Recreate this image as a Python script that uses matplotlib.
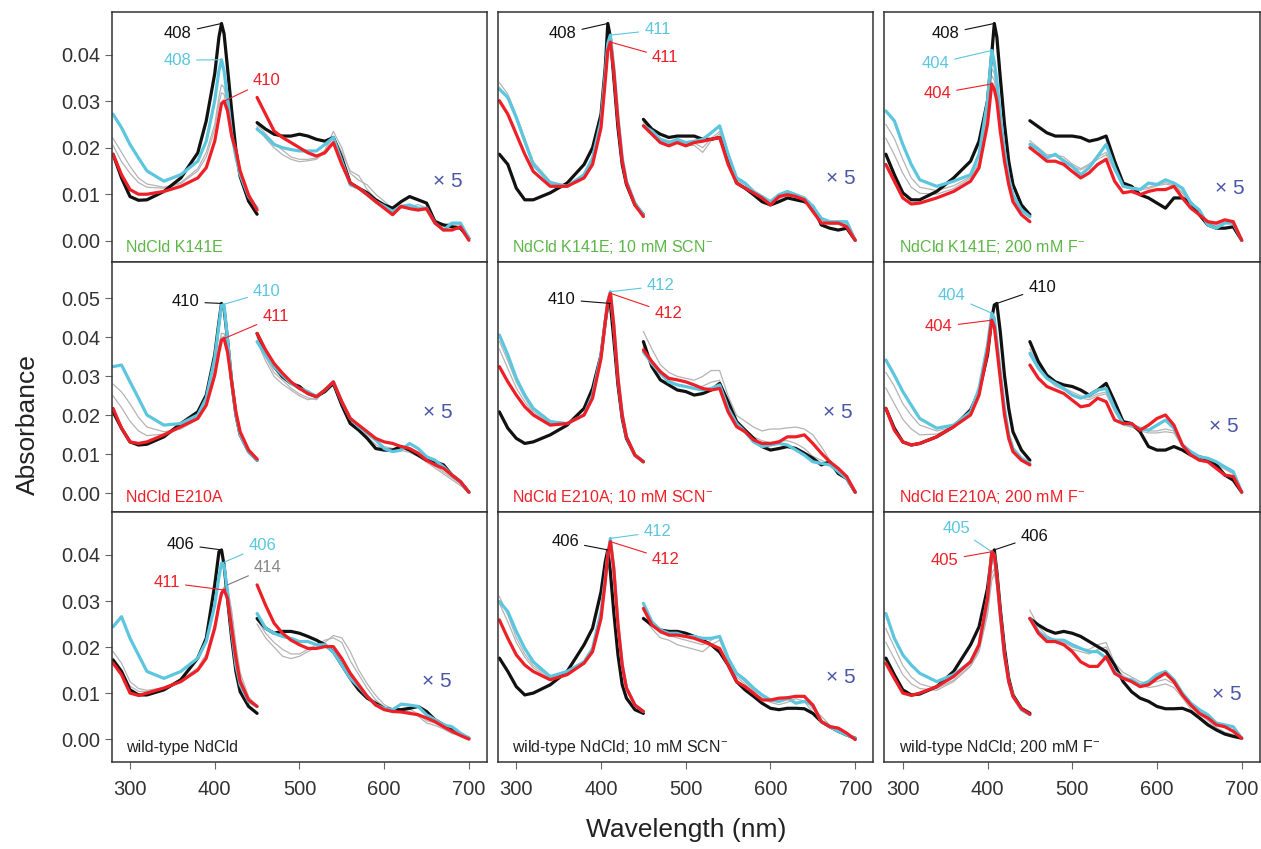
import matplotlib.pyplot as plt
from matplotlib.ticker import FormatStrFormatter

plt.rcParams['font.family'] = ['Liberation Sans', 'DejaVu Sans']
plt.rcParams['mathtext.fontset'] = 'custom'
plt.rcParams['mathtext.rm'] = 'Liberation Sans'

# wavelength grids (nm): Soret region and visible region (shown x5)
wl_soret = [280, 290, 300, 310, 320, 340, 360, 380, 390, 400, 405, 408, 411, 415, 420, 425, 430, 440, 450]
wl_vis = [450, 460, 470, 480, 490, 500, 510, 520, 530, 540, 550, 560, 570,
          580, 590, 600, 610, 620, 630, 640, 650, 660, 670, 680, 690, 700]

# absorbance values in units of 0.001
# --- NdCld K141E
p1_black_s = [18.6, 13.5, 9.5, 8.7, 8.8, 10.6, 13.5, 18.9, 25.8, 35.9, 43.8, 46.7, 44.5, 37.3, 28.0, 19.5, 13.8, 8.5, 5.7]
p1_cyan_s = [27.2, 24.3, 20.7, 17.8, 15.0, 12.8, 14.2, 17.1, 21.4, 30.1, 36.6, 38.9, 36.5, 30.8, 22.9, 18.0, 14.2, 9.5, 7.0]
p1_red_s = [18.6, 14.2, 11.0, 10.0, 10.0, 10.6, 11.7, 13.5, 15.7, 21.4, 26.5, 29.5, 30.0, 28.0, 22.5, 19.5, 15.0, 9.8, 6.6]
p1_gray1_s = [22.0, 19.0, 16.0, 13.5, 12.2, 11.5, 12.5, 15.5, 19.0, 25.0, 31.0, 33.5, 33.0, 29.0, 23.0, 18.0, 14.5, 9.3, 6.5]
p1_gray2_s = [20.5, 17.0, 14.5, 12.5, 11.5, 11.3, 12.3, 15.0, 18.0, 24.0, 29.5, 31.8, 31.5, 28.0, 22.5, 17.5, 14.3, 9.2, 6.5]
p1_black_v = [25.4, 24.0, 22.9, 22.5, 22.5, 22.9, 22.5, 21.8, 21.4, 22.2, 17.8, 12.4, 11.3, 10.3, 8.8, 7.7, 7.0, 8.4, 9.5, 8.8, 8.1, 4.1, 3.4, 3.0, 2.7, 0.5]
p1_cyan_v = [24.0, 22.5, 20.7, 20.0, 19.6, 19.3, 19.3, 19.3, 20.7, 22.2, 17.1, 12.0, 11.3, 9.9, 8.4, 7.4, 6.3, 7.4, 7.7, 7.0, 7.0, 3.8, 2.3, 3.8, 3.8, 0.5]
p1_red_v = [30.8, 27.2, 23.6, 22.2, 21.1, 20.0, 18.9, 18.2, 18.9, 21.1, 16.4, 12.4, 11.3, 9.9, 8.4, 7.0, 5.6, 7.4, 6.9, 6.6, 6.9, 3.8, 2.3, 2.3, 3.0, 0.1]
p1_gray1_v = [25.0, 23.0, 21.0, 19.5, 18.0, 17.5, 17.5, 17.8, 19.5, 23.5, 20.0, 14.5, 13.0, 12.0, 10.0, 8.5, 6.8, 7.0, 7.2, 7.8, 7.0, 4.5, 3.5, 3.8, 3.5, 1.0]
p1_gray2_v = [24.5, 22.0, 20.0, 18.5, 17.5, 17.0, 17.2, 17.5, 19.0, 22.5, 19.0, 15.0, 14.0, 11.0, 9.0, 7.5, 6.5, 7.2, 7.5, 7.2, 6.5, 3.5, 3.2, 3.5, 3.0, 0.8]

# --- NdCld K141E; 10 mM SCN-
p2_black_s = [18.6, 16.4, 11.3, 8.8, 8.8, 10.3, 12.4, 16.4, 20.0, 27.2, 37.3, 46.7, 43.8, 35.2, 24.3, 16.4, 12.1, 7.7, 5.6]
p2_cyan_s = [32.6, 30.8, 26.5, 21.4, 16.4, 12.4, 11.7, 14.2, 17.8, 25.8, 35.9, 42.4, 44.2, 37.3, 26.5, 17.8, 12.8, 8.1, 5.6]
p2_red_s = [30.1, 27.2, 22.9, 18.6, 14.9, 11.7, 11.7, 13.5, 16.4, 24.3, 34.4, 40.9, 42.7, 36.6, 25.8, 17.1, 12.4, 7.7, 5.2]
p2_gray1_s = [34.0, 31.5, 27.0, 22.0, 17.0, 12.8, 11.8, 14.0, 17.5, 25.5, 35.5, 42.0, 43.8, 37.0, 26.2, 17.6, 12.7, 8.0, 5.5]
p2_gray2_s = [33.0, 30.5, 26.0, 21.0, 16.0, 12.5, 11.6, 13.8, 17.2, 25.0, 35.0, 41.5, 43.5, 36.8, 26.0, 17.5, 12.6, 7.9, 5.5]
p2_black_v = [26.1, 24.0, 22.9, 22.2, 22.5, 22.5, 22.5, 21.8, 21.8, 22.2, 17.8, 12.4, 11.3, 9.9, 8.4, 7.7, 8.4, 9.2, 8.8, 8.4, 7.4, 3.4, 2.7, 2.3, 2.7, 0.1]
p2_cyan_v = [24.7, 23.6, 21.8, 21.1, 21.8, 21.1, 21.4, 21.8, 23.2, 24.7, 18.6, 13.5, 12.4, 10.6, 9.5, 8.4, 9.9, 10.6, 9.9, 9.2, 7.4, 4.8, 4.1, 4.1, 4.1, 0.1]
p2_red_v = [24.7, 22.9, 21.1, 20.4, 21.1, 20.4, 21.1, 21.4, 21.8, 22.2, 16.4, 12.4, 11.3, 10.3, 9.2, 7.7, 9.5, 9.9, 9.5, 8.8, 6.3, 3.8, 3.8, 3.8, 3.0, 0.1]
p2_gray1_v = [25.5, 23.5, 22.0, 21.5, 21.0, 20.5, 20.5, 19.0, 21.5, 23.0, 18.0, 13.0, 12.0, 10.5, 9.2, 8.0, 9.0, 10.0, 9.5, 8.8, 7.0, 4.5, 3.5, 3.5, 3.5, 0.5]
p2_gray2_v = [25.0, 23.0, 21.5, 21.0, 21.5, 21.0, 21.0, 20.0, 22.0, 23.5, 18.5, 13.5, 12.2, 10.8, 9.5, 8.2, 9.2, 10.2, 9.8, 9.0, 7.2, 4.6, 3.8, 3.8, 3.8, 0.5]

# --- NdCld K141E; 200 mM F-
p3_black_s = [18.6, 14.2, 10.3, 8.8, 8.8, 10.6, 13.5, 17.1, 21.4, 30.1, 40.2, 46.7, 43.8, 35.2, 25.1, 17.1, 12.1, 7.7, 5.6]
p3_cyan_s = [27.9, 25.8, 20.7, 16.4, 13.1, 11.7, 12.8, 14.2, 18.6, 30.1, 40.9, 38.4, 34.4, 27.2, 19.3, 13.5, 9.9, 6.6, 5.2]
p3_red_s = [16.4, 12.8, 9.2, 7.9, 8.1, 9.2, 10.6, 12.8, 15.7, 25.1, 33.7, 32.5, 30.1, 23.6, 17.1, 12.1, 8.4, 5.6, 4.1]
p3_gray1_s = [25.0, 22.0, 17.5, 13.5, 11.5, 10.8, 11.8, 13.8, 17.0, 27.5, 37.0, 36.0, 32.0, 25.5, 18.5, 13.2, 9.5, 6.4, 5.0]
p3_gray2_s = [22.0, 18.5, 14.5, 11.5, 10.2, 10.0, 11.2, 13.5, 16.5, 26.5, 35.5, 34.5, 31.0, 25.0, 18.0, 13.0, 9.3, 6.3, 5.0]
p3_black_v = [25.8, 24.5, 23.2, 22.5, 22.5, 22.5, 22.2, 21.4, 21.8, 22.5, 17.1, 12.4, 11.7, 9.9, 9.2, 8.1, 7.0, 9.2, 9.2, 8.1, 5.6, 3.4, 2.7, 2.7, 3.0, 0.1]
p3_cyan_v = [20.7, 19.6, 17.8, 18.6, 17.1, 16.0, 14.2, 15.7, 18.2, 20.7, 15.7, 11.7, 11.3, 11.0, 12.4, 12.1, 13.1, 12.4, 11.3, 8.1, 6.6, 3.4, 2.7, 3.8, 3.8, 0.1]
p3_red_v = [20.0, 18.6, 17.1, 17.1, 16.4, 14.9, 13.5, 14.6, 16.4, 17.5, 12.8, 10.3, 10.6, 9.9, 10.6, 11.0, 11.0, 11.7, 9.2, 7.0, 5.6, 4.1, 3.8, 4.5, 4.1, 0.1]
p3_gray1_v = [21.5, 20.0, 18.5, 18.5, 18.0, 16.5, 15.5, 16.5, 18.0, 19.0, 15.5, 12.0, 11.5, 11.2, 11.5, 12.0, 12.5, 12.0, 10.5, 8.0, 6.0, 4.0, 3.5, 4.0, 3.8, 0.5]
p3_gray2_v = [21.0, 19.8, 18.2, 18.2, 17.5, 16.0, 15.2, 16.2, 17.5, 18.5, 15.0, 11.8, 11.3, 11.0, 11.2, 11.8, 12.2, 11.8, 10.2, 7.8, 5.8, 3.8, 3.3, 3.8, 3.6, 0.5]

# --- NdCld E210A
p4_black_s = [20.9, 16.7, 13.2, 12.4, 12.6, 14.5, 17.9, 20.9, 25.2, 35.5, 44.0, 48.7, 47.4, 39.7, 28.6, 20.1, 15.0, 10.7, 8.5]
p4_cyan_s = [32.5, 32.9, 28.6, 24.4, 20.1, 17.5, 17.9, 20.1, 24.4, 34.6, 43.2, 48.3, 48.3, 39.7, 28.6, 20.1, 15.0, 10.7, 8.5]
p4_red_s = [21.8, 16.7, 13.2, 12.8, 13.2, 15.0, 17.1, 19.2, 22.6, 30.3, 36.3, 39.3, 39.7, 36.3, 28.6, 20.9, 15.8, 11.1, 8.8]
p4_gray1_s = [28.0, 26.0, 23.0, 19.5, 17.0, 15.8, 16.5, 19.0, 23.0, 31.5, 38.0, 41.0, 41.0, 37.0, 28.6, 20.5, 15.4, 10.9, 8.6]
p4_gray2_s = [25.0, 22.0, 18.5, 16.0, 14.8, 15.2, 16.8, 19.5, 23.2, 31.0, 37.2, 40.0, 40.2, 36.6, 28.6, 20.6, 15.5, 11.0, 8.7]
p4_black_v = [41.0, 36.3, 32.5, 29.9, 28.2, 27.4, 25.6, 24.8, 26.1, 28.2, 22.6, 17.9, 16.2, 14.1, 11.5, 11.1, 11.1, 12.0, 11.1, 9.8, 8.5, 8.1, 7.3, 4.7, 3.0, 0.3]
p4_cyan_v = [38.9, 35.5, 32.5, 30.3, 28.2, 26.9, 26.1, 24.8, 26.5, 28.6, 23.5, 19.2, 17.1, 15.4, 13.7, 11.5, 10.7, 11.1, 12.8, 11.5, 9.4, 8.5, 6.8, 4.7, 3.0, 0.3]
p4_red_v = [41.0, 36.8, 33.3, 30.8, 28.6, 26.9, 25.6, 24.8, 26.5, 28.6, 23.5, 19.2, 17.5, 15.8, 14.1, 13.2, 12.8, 12.0, 11.5, 10.3, 8.5, 7.3, 6.4, 4.7, 3.0, 0.3]
p4_gray1_v = [40.0, 35.0, 31.0, 29.0, 27.0, 25.5, 24.5, 24.0, 26.5, 28.0, 24.0, 19.5, 17.5, 15.5, 13.5, 12.0, 11.5, 11.5, 11.0, 10.0, 8.5, 7.0, 5.5, 4.0, 2.5, 0.3]
p4_gray2_v = [39.0, 34.0, 30.0, 28.0, 26.5, 25.0, 24.0, 24.5, 27.0, 27.5, 23.0, 18.5, 16.5, 14.5, 12.5, 11.2, 10.8, 11.0, 10.5, 9.5, 8.0, 6.5, 5.0, 3.5, 2.0, 0.2]

# --- NdCld E210A; 10 mM SCN-
p5_black_s = [20.9, 16.7, 14.1, 12.8, 13.2, 15.0, 17.5, 21.8, 26.9, 35.5, 44.0, 48.3, 48.7, 39.7, 27.8, 19.2, 14.1, 9.8, 8.1]
p5_cyan_s = [40.6, 35.5, 29.5, 25.2, 21.8, 18.4, 17.9, 20.1, 25.2, 35.5, 44.0, 49.1, 51.7, 43.2, 29.5, 20.1, 14.5, 9.8, 8.1]
p5_red_s = [32.5, 28.6, 25.2, 22.2, 20.1, 17.5, 17.9, 20.1, 24.4, 34.6, 44.0, 49.1, 51.3, 43.2, 29.5, 20.1, 14.5, 9.8, 8.1]
p5_gray1_s = [39.0, 34.0, 28.5, 24.5, 21.0, 18.0, 17.8, 20.0, 25.0, 35.2, 43.8, 49.5, 51.5, 43.0, 29.5, 20.0, 14.4, 9.8, 8.1]
p5_gray2_s = [37.0, 32.0, 27.0, 23.5, 20.5, 17.8, 17.8, 20.0, 24.8, 35.0, 43.6, 49.3, 51.8, 43.2, 29.6, 20.1, 14.5, 9.8, 8.1]
p5_black_v = [38.9, 32.5, 29.1, 27.8, 26.5, 26.1, 25.2, 25.6, 26.5, 28.2, 23.5, 18.4, 16.2, 14.1, 12.0, 11.1, 11.5, 12.0, 11.5, 10.3, 9.0, 7.3, 8.1, 5.1, 3.8, 0.3]
p5_cyan_v = [36.3, 33.3, 30.8, 28.6, 27.8, 27.4, 26.9, 26.5, 26.9, 27.8, 21.8, 17.9, 15.8, 13.2, 12.0, 12.4, 12.8, 12.4, 11.1, 9.8, 8.1, 7.7, 7.3, 5.6, 3.8, 0.3]
p5_red_v = [36.8, 33.8, 31.2, 29.5, 29.1, 28.6, 27.8, 26.9, 26.5, 26.9, 20.9, 17.1, 15.8, 13.7, 12.8, 12.8, 13.2, 14.5, 14.5, 15.0, 12.8, 10.3, 8.1, 6.4, 4.3, 0.3]
p5_gray1_v = [41.5, 37.0, 33.0, 31.0, 30.0, 29.5, 29.0, 30.0, 31.5, 31.5, 25.0, 20.0, 18.5, 17.0, 16.0, 16.5, 16.5, 16.8, 17.0, 16.5, 15.0, 12.0, 8.5, 6.0, 4.5, 0.5]
p5_gray2_v = [37.5, 34.0, 31.5, 29.0, 28.0, 27.5, 27.0, 27.5, 28.5, 29.0, 22.5, 18.0, 16.5, 14.5, 13.5, 13.0, 13.5, 13.5, 12.8, 11.5, 9.5, 8.5, 7.5, 5.5, 4.0, 0.3]

# --- NdCld E210A; 200 mM F-
p6_black_s = [21.8, 16.7, 13.2, 12.4, 12.8, 14.5, 17.1, 21.4, 26.1, 35.5, 44.9, 48.3, 48.7, 41.5, 30.3, 21.8, 15.8, 11.1, 8.5]
p6_cyan_s = [34.2, 30.3, 26.1, 22.6, 19.2, 16.7, 17.5, 20.9, 26.9, 38.0, 46.2, 44.9, 38.9, 31.2, 21.8, 15.0, 11.5, 9.0, 7.7]
p6_red_s = [21.8, 16.2, 13.2, 12.4, 12.8, 14.5, 17.1, 20.1, 25.2, 36.3, 44.4, 42.7, 37.2, 29.5, 20.1, 14.1, 10.7, 8.5, 7.3]
p6_gray1_s = [31.0, 27.5, 23.0, 20.0, 17.5, 16.0, 17.0, 20.5, 26.0, 37.0, 45.0, 44.0, 38.2, 30.6, 21.2, 14.6, 11.2, 8.8, 7.5]
p6_gray2_s = [27.0, 23.0, 19.0, 16.5, 15.0, 15.2, 17.0, 20.3, 25.6, 36.6, 44.6, 43.5, 37.8, 30.2, 20.8, 14.4, 11.0, 8.7, 7.4]
p6_black_v = [38.9, 33.8, 30.3, 28.6, 27.8, 27.4, 26.5, 25.2, 26.5, 28.2, 23.5, 18.4, 17.9, 15.8, 12.0, 11.1, 11.1, 12.0, 11.1, 9.8, 9.4, 8.5, 7.3, 4.7, 3.4, 0.3]
p6_cyan_v = [35.9, 32.1, 29.5, 28.2, 26.9, 25.2, 24.4, 25.2, 26.5, 26.9, 21.8, 17.9, 17.5, 16.7, 16.2, 17.5, 18.8, 16.7, 12.4, 10.7, 9.4, 9.0, 8.1, 6.8, 5.6, 0.3]
p6_red_v = [32.9, 29.5, 27.4, 26.5, 25.6, 23.9, 22.2, 22.6, 24.4, 23.5, 18.8, 17.9, 17.9, 16.2, 17.5, 19.2, 20.1, 17.5, 12.4, 9.8, 8.5, 8.1, 6.4, 4.7, 4.3, 0.3]
p6_gray1_v = [37.0, 33.0, 30.0, 28.0, 27.0, 26.0, 25.0, 24.5, 25.5, 26.0, 22.0, 18.0, 17.5, 16.5, 16.0, 16.0, 16.5, 16.0, 12.5, 10.8, 9.5, 9.0, 7.8, 6.5, 5.2, 0.3]
p6_gray2_v = [35.5, 32.0, 29.5, 27.5, 26.5, 25.5, 24.5, 24.0, 25.0, 25.5, 21.0, 17.5, 17.0, 16.0, 15.5, 15.5, 15.8, 15.5, 12.0, 10.5, 9.2, 8.8, 7.5, 6.2, 5.0, 0.3]

# --- wild-type NdCld
p7_black_s = [17.2, 14.7, 10.7, 9.6, 9.6, 10.7, 12.9, 17.6, 21.9, 33.5, 40.7, 41.1, 37.8, 30.6, 21.9, 14.7, 10.3, 7.1, 5.6]
p7_cyan_s = [24.4, 26.6, 21.9, 18.3, 14.7, 13.2, 14.7, 17.6, 21.2, 29.1, 35.3, 38.2, 37.8, 32.0, 23.4, 16.1, 11.8, 8.2, 7.1]
p7_red_s = [16.5, 14.0, 10.0, 9.5, 10.0, 11.1, 12.5, 15.0, 17.6, 24.1, 29.1, 31.7, 32.4, 30.6, 24.1, 17.6, 12.5, 8.5, 7.1]
p7_gray1_s = [19.0, 16.5, 12.5, 11.0, 10.6, 11.2, 12.8, 15.5, 18.5, 25.0, 29.5, 32.0, 33.0, 33.5, 27.0, 19.5, 13.5, 8.8, 7.0]
p7_gray2_s = [17.5, 15.0, 11.5, 10.4, 10.3, 11.0, 12.5, 15.0, 17.8, 24.0, 28.5, 31.0, 32.5, 33.0, 28.0, 20.5, 14.5, 9.2, 7.2]
p7_black_v = [26.2, 24.1, 23.0, 23.4, 23.4, 23.0, 22.3, 21.5, 20.5, 19.0, 16.1, 13.2, 10.7, 8.9, 7.8, 6.7, 6.4, 6.4, 6.7, 7.1, 6.0, 4.2, 3.1, 2.0, 1.1, 0.2]
p7_cyan_v = [27.3, 24.1, 23.0, 22.3, 21.9, 21.2, 21.2, 20.5, 20.5, 18.9, 16.1, 13.2, 11.4, 9.3, 7.4, 6.7, 6.4, 7.6, 7.4, 7.1, 5.3, 4.2, 3.1, 2.7, 1.3, 0.2]
p7_red_v = [33.5, 29.1, 25.2, 23.0, 21.5, 20.5, 19.7, 19.7, 20.1, 20.1, 17.5, 14.3, 11.8, 9.3, 7.4, 6.4, 6.0, 5.9, 5.6, 5.3, 4.6, 3.8, 2.7, 1.7, 0.8, 0.0]
p7_gray1_v = [26.0, 23.0, 21.0, 19.5, 18.5, 18.5, 19.5, 20.5, 21.5, 22.0, 21.0, 17.0, 14.0, 11.0, 8.5, 7.0, 6.0, 6.0, 6.5, 5.5, 4.0, 3.5, 2.5, 1.5, 1.0, 0.2]
p7_gray2_v = [25.0, 22.0, 20.0, 18.0, 17.5, 18.0, 19.0, 20.0, 21.0, 22.5, 22.0, 19.0, 15.0, 12.0, 9.5, 7.5, 6.5, 6.2, 6.0, 5.0, 3.5, 3.0, 2.2, 1.2, 0.8, 0.2]

# --- wild-type NdCld; 10 mM SCN-
p8_black_s = [17.6, 14.7, 11.4, 9.6, 10.0, 11.8, 14.7, 20.5, 24.1, 32.0, 38.5, 41.1, 36.4, 27.7, 18.3, 11.8, 8.9, 6.4, 5.6]
p8_cyan_s = [29.9, 27.7, 23.4, 19.7, 16.8, 13.6, 14.7, 16.8, 19.7, 27.7, 34.9, 40.0, 43.6, 37.1, 24.8, 16.1, 11.1, 7.4, 6.0]
p8_red_s = [25.9, 21.9, 18.3, 16.1, 14.7, 12.9, 14.0, 16.5, 19.0, 26.2, 34.2, 40.0, 42.9, 37.1, 24.8, 16.1, 11.1, 7.4, 6.0]
p8_gray1_s = [31.0, 27.0, 22.0, 18.5, 16.0, 13.5, 14.2, 16.5, 19.5, 27.5, 34.8, 40.0, 43.0, 37.0, 24.8, 16.1, 11.1, 7.4, 6.0]
p8_gray2_s = [29.5, 25.5, 21.0, 17.8, 15.5, 13.2, 14.0, 16.4, 19.3, 27.2, 34.5, 39.8, 42.8, 36.8, 24.7, 16.1, 11.1, 7.4, 6.0]
p8_black_v = [26.2, 24.8, 23.7, 23.4, 23.4, 23.0, 22.3, 21.5, 20.5, 18.9, 16.1, 12.5, 10.7, 9.3, 7.8, 6.7, 6.4, 6.7, 6.7, 6.6, 5.6, 3.8, 2.7, 1.7, 0.9, 0.2]
p8_cyan_v = [29.5, 25.5, 23.7, 23.0, 23.0, 22.3, 22.3, 21.9, 21.9, 22.3, 17.6, 14.3, 12.9, 11.1, 9.6, 8.5, 8.2, 8.9, 7.8, 8.2, 7.4, 3.8, 2.7, 1.7, 0.9, 0.2]
p8_red_v = [28.4, 24.8, 23.4, 22.6, 22.6, 22.3, 21.9, 21.2, 20.5, 19.7, 16.1, 12.5, 11.4, 10.0, 8.5, 8.5, 8.9, 9.0, 9.3, 9.3, 7.4, 3.8, 2.7, 2.4, 1.3, -0.1]
p8_gray1_v = [28.0, 25.0, 23.0, 22.5, 22.0, 21.5, 21.0, 20.5, 21.5, 22.5, 18.0, 14.0, 12.5, 10.5, 9.5, 8.5, 8.0, 8.5, 9.5, 9.0, 6.5, 5.0, 3.0, 2.5, 1.0, 0.2]
p8_gray2_v = [26.5, 24.0, 22.0, 21.5, 20.5, 20.0, 19.5, 19.0, 20.5, 21.5, 17.0, 13.5, 12.0, 10.0, 9.0, 8.0, 7.5, 8.0, 8.8, 8.2, 5.8, 4.0, 2.5, 2.0, 0.8, 0.2]

# --- wild-type NdCld; 200 mM F-
p9_black_s = [17.6, 14.0, 10.7, 9.6, 9.8, 11.4, 14.7, 20.5, 24.4, 32.8, 40.0, 41.1, 36.4, 28.4, 19.7, 13.2, 9.6, 6.7, 5.6]
p9_cyan_s = [27.3, 21.9, 18.3, 16.1, 14.3, 12.5, 14.0, 16.8, 20.5, 30.6, 40.7, 40.0, 34.9, 27.0, 18.3, 12.5, 9.3, 6.4, 5.3]
p9_red_s = [16.5, 13.2, 10.0, 9.5, 10.0, 11.4, 13.6, 16.8, 20.5, 30.6, 40.7, 40.0, 35.3, 27.3, 18.3, 12.5, 9.3, 6.6, 5.4]
p9_gray1_s = [24.0, 20.0, 16.0, 13.5, 12.0, 11.0, 12.8, 16.0, 19.5, 28.0, 36.0, 37.0, 33.5, 27.0, 18.5, 12.8, 9.5, 6.6, 5.4]
p9_gray2_s = [21.0, 17.5, 14.0, 12.0, 11.0, 10.6, 12.5, 15.8, 19.0, 27.0, 34.5, 36.0, 33.0, 26.8, 18.6, 12.9, 9.6, 6.7, 5.5]
p9_black_v = [26.2, 24.8, 23.7, 23.0, 23.4, 23.0, 22.3, 21.2, 20.1, 19.0, 16.1, 12.5, 10.3, 8.9, 8.2, 7.1, 6.6, 6.6, 6.7, 6.0, 4.6, 3.1, 2.0, 1.1, 0.6, 0.2]
p9_cyan_v = [26.2, 23.4, 21.9, 21.5, 21.5, 20.5, 19.7, 19.0, 19.0, 17.6, 14.7, 13.2, 12.9, 11.8, 12.5, 14.0, 14.7, 12.9, 10.0, 7.8, 6.4, 5.3, 3.5, 3.1, 2.7, 0.2]
p9_red_v = [26.2, 23.0, 21.2, 21.2, 20.5, 19.0, 16.8, 15.8, 15.8, 17.9, 14.3, 13.2, 12.5, 11.4, 11.8, 13.2, 14.3, 12.5, 9.6, 7.4, 5.6, 4.6, 3.1, 2.7, 1.7, 0.2]
p9_gray1_v = [28.0, 24.5, 22.5, 21.5, 21.0, 20.0, 19.5, 19.5, 20.5, 21.0, 16.5, 14.5, 13.5, 12.5, 12.0, 12.5, 13.0, 12.0, 9.5, 7.0, 5.5, 4.0, 2.5, 1.5, 1.0, 0.2]
p9_gray2_v = [26.5, 23.5, 22.0, 21.0, 20.5, 19.5, 19.0, 18.5, 19.5, 20.0, 15.8, 13.8, 12.8, 11.8, 11.2, 11.5, 12.0, 11.2, 9.0, 6.5, 5.0, 3.5, 2.2, 1.2, 0.8, 0.2]

panel_labels = ['NdCld K141E', 'NdCld K141E; 10 mM SCN$^{-}$', 'NdCld K141E; 200 mM F$^{-}$',
                'NdCld E210A', 'NdCld E210A; 10 mM SCN$^{-}$', 'NdCld E210A; 200 mM F$^{-}$',
                'wild-type NdCld', 'wild-type NdCld; 10 mM SCN$^{-}$', 'wild-type NdCld; 200 mM F$^{-}$']

BLACK = '#111111'
CYAN = '#5cc6df'
RED = '#ee1f26'
GRAY = '#b4b4b4'
GREEN = '#5cb646'
XFIVE = '#4b56a8'
label_colors = [GREEN, GREEN, GREEN, RED, RED, RED, '#222222', '#222222', '#222222']

panels = [
    dict(black=(p1_black_s, p1_black_v), cyan=(p1_cyan_s, p1_cyan_v), red=(p1_red_s, p1_red_v),
         grays=[(p1_gray1_s, p1_gray1_v), (p1_gray2_s, p1_gray2_v)]),
    dict(black=(p2_black_s, p2_black_v), cyan=(p2_cyan_s, p2_cyan_v), red=(p2_red_s, p2_red_v),
         grays=[(p2_gray1_s, p2_gray1_v), (p2_gray2_s, p2_gray2_v)]),
    dict(black=(p3_black_s, p3_black_v), cyan=(p3_cyan_s, p3_cyan_v), red=(p3_red_s, p3_red_v),
         grays=[(p3_gray1_s, p3_gray1_v), (p3_gray2_s, p3_gray2_v)]),
    dict(black=(p4_black_s, p4_black_v), cyan=(p4_cyan_s, p4_cyan_v), red=(p4_red_s, p4_red_v),
         grays=[(p4_gray1_s, p4_gray1_v), (p4_gray2_s, p4_gray2_v)]),
    dict(black=(p5_black_s, p5_black_v), cyan=(p5_cyan_s, p5_cyan_v), red=(p5_red_s, p5_red_v),
         grays=[(p5_gray1_s, p5_gray1_v), (p5_gray2_s, p5_gray2_v)]),
    dict(black=(p6_black_s, p6_black_v), cyan=(p6_cyan_s, p6_cyan_v), red=(p6_red_s, p6_red_v),
         grays=[(p6_gray1_s, p6_gray1_v), (p6_gray2_s, p6_gray2_v)]),
    dict(black=(p7_black_s, p7_black_v), cyan=(p7_cyan_s, p7_cyan_v), red=(p7_red_s, p7_red_v),
         grays=[(p7_gray1_s, p7_gray1_v), (p7_gray2_s, p7_gray2_v)]),
    dict(black=(p8_black_s, p8_black_v), cyan=(p8_cyan_s, p8_cyan_v), red=(p8_red_s, p8_red_v),
         grays=[(p8_gray1_s, p8_gray1_v), (p8_gray2_s, p8_gray2_v)]),
    dict(black=(p9_black_s, p9_black_v), cyan=(p9_cyan_s, p9_cyan_v), red=(p9_red_s, p9_red_v),
         grays=[(p9_gray1_s, p9_gray1_v), (p9_gray2_s, p9_gray2_v)]),
]

# peak labels: (text, curve, text x (nm), text y (x0.001), alignment)
peak_labels = [
    [('408', 'black', 373, 44.6, 'right'), ('408', 'cyan', 372, 38.8, 'right'), ('410', 'red', 445, 34.4, 'left')],
    [('408', 'black', 371, 44.5, 'right'), ('411', 'cyan', 451, 45.3, 'left'), ('411', 'red', 460, 39.4, 'left')],
    [('408', 'black', 367, 44.5, 'right'), ('404', 'cyan', 355, 38.1, 'right'), ('404', 'red', 357, 31.6, 'right')],
    [('410', 'black', 382, 49.1, 'right'), ('410', 'cyan', 445, 51.7, 'left'), ('411', 'red', 456, 45.3, 'left')],
    [('410', 'black', 370, 49.7, 'right'), ('412', 'cyan', 454, 53.2, 'left'), ('412', 'red', 463, 46.2, 'left')],
    [('404', 'cyan', 374, 50.7, 'right'), ('410', 'black', 448, 52.7, 'left'), ('404', 'red', 359, 42.7, 'right')],
    [('406', 'black', 376, 42.3, 'right'), ('406', 'cyan', 440, 42.0, 'left'), ('414', 'gray', 446, 37.3, 'left'),
     ('411', 'red', 359, 34.0, 'right')],
    [('406', 'black', 374, 42.9, 'right'), ('412', 'cyan', 450, 45.0, 'left'), ('412', 'red', 460, 39.1, 'left')],
    [('405', 'cyan', 380, 45.8, 'right'), ('406', 'black', 439, 44.0, 'left'), ('405', 'red', 366, 38.9, 'right')],
]

x5_pos = [(0.896, 0.323), (0.914, 0.335), (0.92, 0.294),
          (0.869, 0.395), (0.906, 0.395), (0.904, 0.339),
          (0.867, 0.319), (0.914, 0.335), (0.912, 0.267)]

row_ylim = [(-0.0045, 0.0491), (-0.0047, 0.0594), (-0.0049, 0.0494)]
row_yticks = [[0, 0.01, 0.02, 0.03, 0.04], [0, 0.01, 0.02, 0.03, 0.04, 0.05], [0, 0.01, 0.02, 0.03, 0.04]]


def scaled(vals):
    return [v / 1000 for v in vals]


def peak_of(vals):
    i = max(range(len(vals)), key=lambda k: vals[k])
    return wl_soret[i], vals[i] / 1000


fig = plt.figure(figsize=(12.61, 8.49), dpi=100)
W, H = 1261, 849
col_left = [111.7, 498, 884.5]
row_top = [12.3, 261.7, 511.7]
row_h = [249.4, 250, 250]

for idx, pan in enumerate(panels):
    r, c = divmod(idx, 3)
    ax = fig.add_axes([col_left[c] / W, 1 - (row_top[r] + row_h[r]) / H, 375 / W, row_h[r] / H])

    for gs, gv in pan['grays']:
        ax.plot(wl_soret, scaled(gs), color=GRAY, lw=0.9)
        ax.plot(wl_vis, scaled(gv), color=GRAY, lw=0.9)
    for key, col in [('black', BLACK), ('cyan', CYAN), ('red', RED)]:
        s, v = pan[key]
        ax.plot(wl_soret, scaled(s), color=col, lw=2.3, solid_capstyle='round', solid_joinstyle='round')
        ax.plot(wl_vis, scaled(v), color=col, lw=2.3, solid_capstyle='round', solid_joinstyle='round')

    for txt, which, tx, ty, ha in peak_labels[idx]:
        if which == 'gray':
            curve, col, tcol = pan['grays'][0][0], '#777777', '#888888'
        else:
            curve = pan[which][0]
            col = {'black': BLACK, 'cyan': CYAN, 'red': RED}[which]
            tcol = col
        ax.annotate(txt, xy=peak_of(curve), xytext=(tx, ty / 1000), ha=ha, va='center',
                    color=tcol, fontsize=12,
                    arrowprops=dict(arrowstyle='-', color=col, lw=0.8, shrinkA=2, shrinkB=0))

    ax.text(x5_pos[idx][0], x5_pos[idx][1], '\u00d7 5', transform=ax.transAxes,
            color=XFIVE, fontsize=15, ha='center', va='center')
    ax.text(0.038, 0.058, panel_labels[idx], transform=ax.transAxes,
            color=label_colors[idx], fontsize=11.5, ha='left', va='center')

    ax.set_xlim(278.4, 721)
    ax.set_ylim(*row_ylim[r])
    for sp in ax.spines.values():
        sp.set_color('#333333')
        sp.set_linewidth(1.1)
    ax.tick_params(direction='out', length=5, width=0.8, color='#666666',
                   labelcolor='#333333', labelsize=14.5)
    if c == 0:
        ax.set_yticks(row_yticks[r])
        ax.yaxis.set_major_formatter(FormatStrFormatter('%.2f'))
    else:
        ax.set_yticks([])
    if r == 2:
        ax.set_xticks([300, 400, 500, 600, 700])
        ax.tick_params(axis='x', pad=8)
    else:
        ax.set_xticks([])

fig.text(0.022, 0.5, 'Absorbance', rotation=90, ha='center', va='center', fontsize=19, color='#222222')
fig.text(0.544, 0.022, 'Wavelength (nm)', ha='center', va='center', fontsize=19, color='#222222')

fig.savefig('out.png', dpi=100)
